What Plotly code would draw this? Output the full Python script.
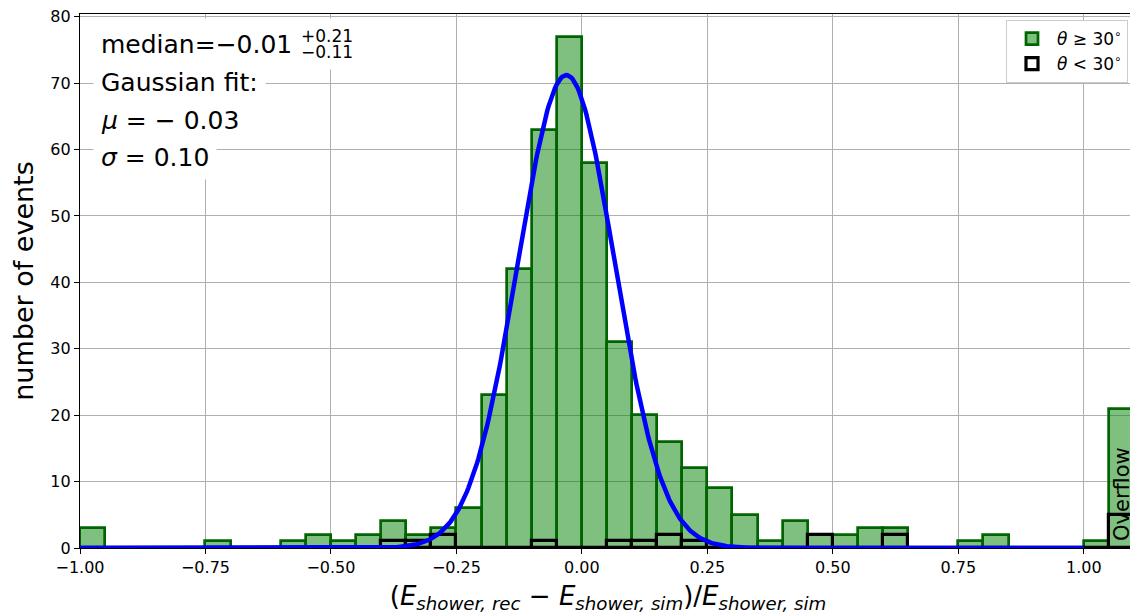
import numpy as np
import plotly.graph_objects as go

# ---------------- data ----------------
bin_edges_start = -1.0
bin_width = 0.05
# counts per 0.05-wide bin from -1.00 to 1.10 (last bin = overflow)
counts_ge30 = [3, 0, 0, 0, 0, 1, 0, 0, 1, 2,
               1, 2, 4, 2, 3, 6, 23, 42, 63, 77,
               58, 31, 20, 16, 12, 9, 5, 1, 4, 2,
               2, 3, 3, 0, 0, 1, 2, 0, 0, 0,
               1, 21]
counts_lt30 = [0, 0, 0, 0, 0, 0, 0, 0, 0, 0,
               0, 0, 1, 1, 2, 0, 0, 0, 1, 0,
               0, 1, 1, 2, 1, 0, 0, 0, 0, 2,
               0, 0, 2, 0, 0, 0, 0, 0, 0, 0,
               0, 5]
fit_amplitude = 71.2
fit_mu = -0.031
fit_sigma = 0.096
fit_xmin, fit_xmax = -1.0, 1.0

x_ticks = [-1.0, -0.75, -0.5, -0.25, 0.0, 0.25, 0.5, 0.75, 1.0]
y_ticks = [0, 10, 20, 30, 40, 50, 60, 70, 80]

median_text = "median=−0.01"
median_up = "+0.21"
median_down = "−0.11"
fit_lines = ["Gaussian fit:", "<i>μ</i> = − 0.03", "<i>σ</i> = 0.10"]
label_ge = "<i>θ</i> ≥ 30<sup>∘</sup>"
label_lt = "<i>θ</i> < 30<sup>∘</sup>"

# ---------------- figure ----------------
n = len(counts_ge30)
centers = [bin_edges_start + bin_width * (i + 0.5) for i in range(n)]

OFF = 8  # page body margin in the browser
W, H = 1138 - OFF, 615 - OFF
ml, mr, mt, mb = 80 - OFF, 2, 14 - OFF, 67
pw, ph = W - ml - mr, H - mt - mb


def px(xp):  # screen pixel -> paper
    return (xp - OFF - ml) / pw


def py(yp):
    return (H - mb - (yp - OFF)) / ph


fig = go.Figure()
fig.add_trace(go.Bar(
    x=centers, y=counts_ge30, width=bin_width, name=label_ge,
    marker=dict(color="rgba(0,128,0,0.5)", line=dict(color="#006400", width=2.7)),
))
fig.add_trace(go.Bar(
    x=centers, y=counts_lt30, width=bin_width, name=label_lt,
    marker=dict(color="rgba(255,255,255,0)", line=dict(color="black", width=3.2)),
))
xf = np.linspace(fit_xmin, fit_xmax, 800)
yf = fit_amplitude * np.exp(-(xf - fit_mu) ** 2 / (2 * fit_sigma ** 2))
fig.add_trace(go.Scatter(x=xf, y=yf, mode="lines", line=dict(color="blue", width=4.5),
                         showlegend=False, hoverinfo="skip"))

font_main = "DejaVu Sans"
ann = []
ann.append(dict(xref="paper", yref="paper", x=px(93), y=py(44), xanchor="left", yanchor="middle",
                text=median_text, showarrow=False, font=dict(size=25, color="black", family=font_main),
                bgcolor="white", borderpad=7, width=255, height=36, align="left"))
for t, yc in zip(fit_lines, [83, 120, 157]):
    ann.append(dict(xref="paper", yref="paper", x=px(93), y=py(yc), xanchor="left", yanchor="middle",
                    text=t, showarrow=False, font=dict(size=25, color="black", family=font_main),
                    bgcolor="white", borderpad=7, align="left"))
ann.append(dict(xref="paper", yref="paper", x=px(300), y=py(36), xanchor="left", yanchor="middle",
                text=median_up, showarrow=False, font=dict(size=17, color="black", family=font_main),
                borderpad=0))
ann.append(dict(xref="paper", yref="paper", x=px(300), y=py(52), xanchor="left", yanchor="middle",
                text=median_down, showarrow=False, font=dict(size=17, color="black", family=font_main),
                borderpad=0))
ann.append(dict(xref="x", yref="y", x=centers[-1], y=8.2, textangle=-90, xanchor="center", yanchor="middle",
                text="Overflow", showarrow=False, font=dict(size=21, color="black", family=font_main)))

axis_common = dict(showline=True, linecolor="black", linewidth=1.2, mirror=True,
                   ticks="outside", ticklen=5, tickwidth=1.2, tickcolor="black",
                   showgrid=True, gridcolor="#b0b0b0", gridwidth=1, zeroline=False,
                   automargin=False, ticklabeloverflow="allow",
                   tickfont=dict(size=16, color="black", family=font_main))

fig.update_layout(
    width=W, height=H, margin=dict(l=ml, r=mr, t=mt, b=mb, pad=0, autoexpand=False),
    paper_bgcolor="white", plot_bgcolor="white",
    barmode="overlay", bargap=0,
    font=dict(family=font_main, color="black"),
    xaxis=dict(range=[-1.0, 1.104], tickvals=x_ticks, tickformat=".2f",
               title=dict(text="(<i>E</i><sub><i>shower, rec</i></sub> − <i>E</i><sub><i>shower, sim</i></sub>)/<i>E</i><sub><i>shower, sim</i></sub>",
                          font=dict(size=26, color="black"), standoff=10),
               **axis_common),
    yaxis=dict(range=[0, 80.4], tickvals=y_ticks,
               title=dict(text="number of events", font=dict(size=27, color="black"), standoff=12),
               **axis_common),
    legend=dict(x=px(1128), y=py(20), xanchor="right", yanchor="top",
                bgcolor="white", bordercolor="#cccccc", borderwidth=1,
                font=dict(size=17, color="black"), tracegroupgap=0, itemwidth=40),
    annotations=ann,
    showlegend=True,
)

fig.write_html("out.html")
